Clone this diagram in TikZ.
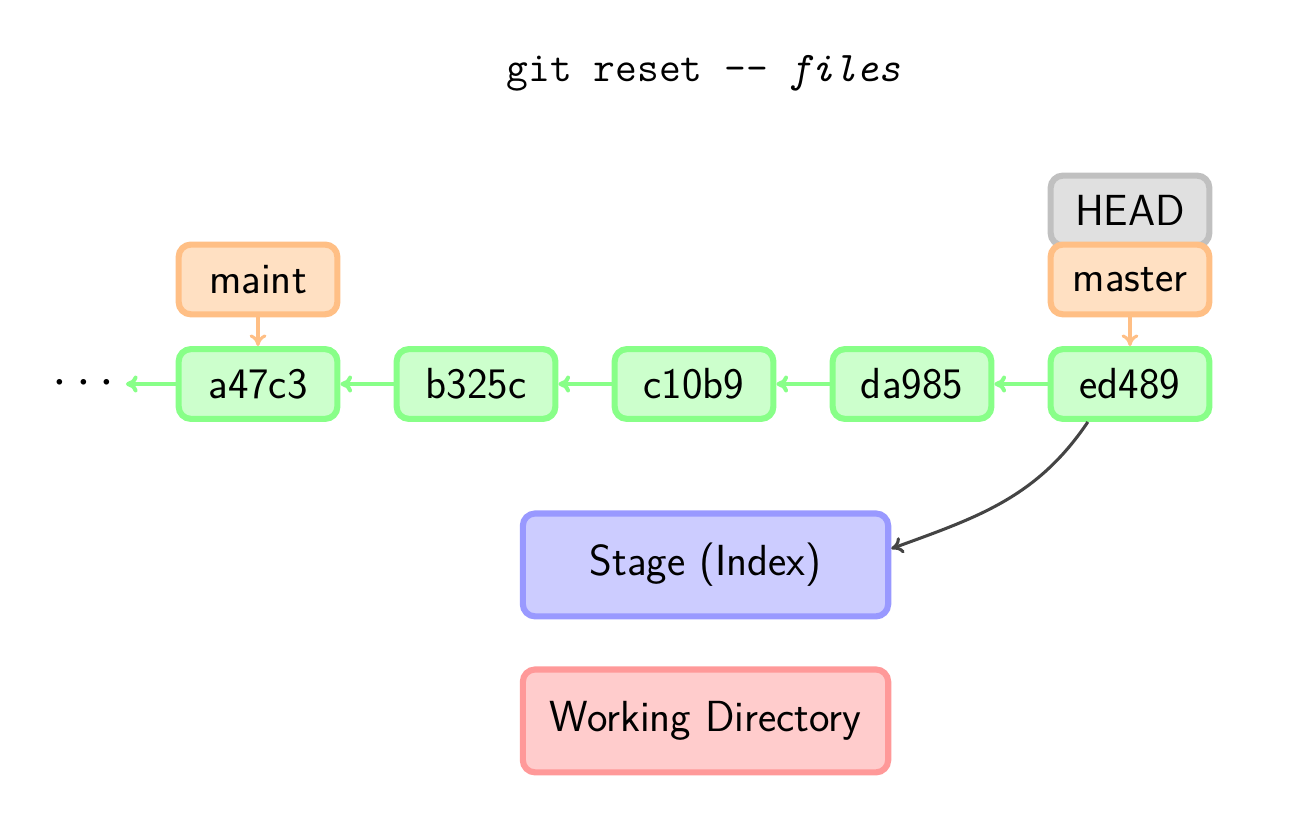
\documentclass[tikz,border=0pt]{standalone}
\usepackage{fontspec}
\newfontfamily\lmlight{lmsans17-regular.otf}
\usetikzlibrary{arrows.meta}
\definecolor{commitfill}{HTML}{CCFFCC}
\definecolor{commitline}{HTML}{88FF88}
\definecolor{branchfill}{HTML}{FFE0C2}
\definecolor{branchline}{HTML}{FFBF85}
\definecolor{headfill}{HTML}{E0E0E0}
\definecolor{headline}{HTML}{C0C0C0}
\definecolor{stagefill}{HTML}{CCCCFF}
\definecolor{stageline}{HTML}{9999FF}
\definecolor{workfill}{HTML}{FFCCCC}
\definecolor{workline}{HTML}{FF9999}
\definecolor{resetline}{HTML}{444444}
\tikzset{
  box/.style={rounded corners=4pt,line width=2pt,minimum width=1.82cm,minimum height=.80cm,inner sep=2pt,font=\lmlight\fontsize{14.2}{17}\selectfont},
  commit/.style={box,draw=commitline,fill=commitfill},
  branch/.style={box,draw=branchline,fill=branchfill},
  head/.style={box,draw=headline,fill=headfill},
  area/.style={box,minimum width=4.19cm,minimum height=1.18cm},
  tip/.style={-{To[length=3.8pt,width=5.5pt]}}
}
\begin{document}
\begin{tikzpicture}
\useasboundingbox (0,0) rectangle (14.794,9.610);
\node (title) at (8.07,8.77) {\fontsize{13.8}{16}\ttfamily git reset -{}- \textit{files}};
\node[font=\fontsize{17.5}{20}\selectfont,inner sep=0pt] (dots) at (0.96,5.206) {$\cdots$};
\foreach \n [count=\i from 0] in {a47c3,b325c,c10b9,da985,ed489}
  \node[commit] (\n) at (2.959+2.5*\i,5.206) {\n};
\node[branch] (maint) at (2.959,6.405) {maint};
\node[head] (HEAD) at (12.959,7.196) {HEAD};
\node[branch] (master) at (12.959,6.405) {master};
\node[area,draw=stageline,fill=stagefill] (stage) at (8.091,3.131) {Stage (Index)};
\node[area,draw=workline,fill=workfill] (work) at (8.091,1.342) {Working Directory};
% parents
\foreach \a/\b in {ed489/da985,da985/c10b9,c10b9/b325c,b325c/a47c3}
  \draw[commitline,line width=1.3pt,tip] (\a) -- (\b);
\draw[commitline,line width=1.3pt,tip] (a47c3) -- ([xshift=3.5pt]dots.east);
% branches
\draw[branchline,line width=1pt,tip] (maint) -- (a47c3);
\draw[branchline,line width=1pt,tip] (master) -- (ed489);
% reset
\draw[resetline,line width=1pt,tip] (ed489.-138) to[out=-124,in=20] (stage.5);
\end{tikzpicture}
\end{document}
